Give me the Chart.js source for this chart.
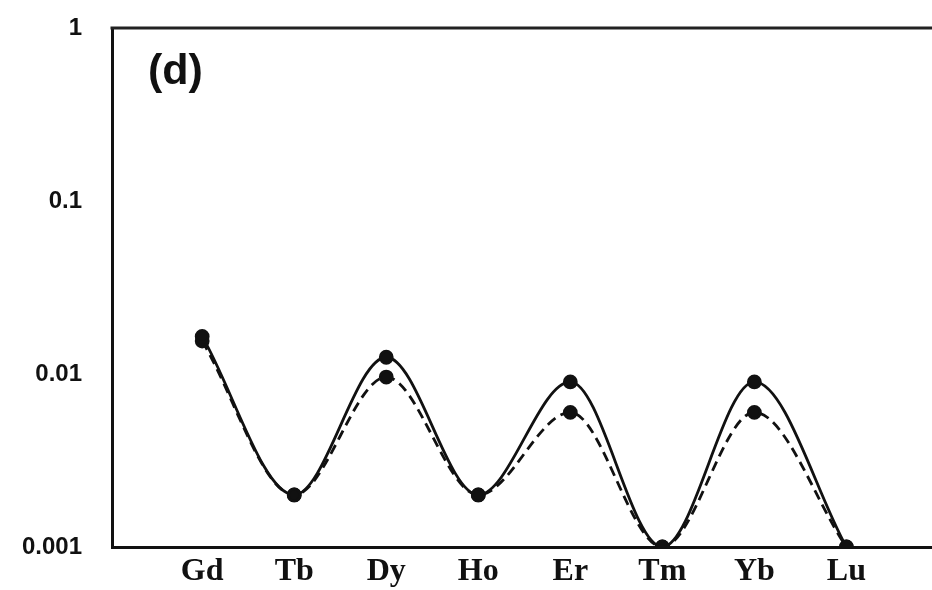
<!DOCTYPE html>
<html>
<head>
<meta charset="utf-8">
<script src="https://cdn.jsdelivr.net/npm/chart.js@4.4.1/dist/chart.umd.min.js"></script>
<style>
  html, body { margin: 0; padding: 0; background: #fff; }
  #wrap { width: 932px; height: 590px; }
</style>
</head>
<body>
<div id="wrap"><canvas id="ree"></canvas></div>
<script>
// 元素ラベルと値
const elements = ['Gd', 'Tb', 'Dy', 'Ho', 'Er', 'Tm', 'Yb', 'Lu'];
const solidValues = [0.0165, 0.002, 0.0125, 0.002, 0.009, 0.001, 0.009, 0.001];
const dashedValues = [0.0155, 0.002, 0.0096, 0.002, 0.006, 0.001, 0.006, 0.001];
const yTicks = [0.001, 0.01, 0.1, 1];
const panelLabel = '(d)';

function toPoints(values) {
    return values.map((v, i) => ({ x: i, y: v }));
}

// 上側の枠線とパネルラベル
const framePlugin = {
    id: 'frame',
    afterDraw(chart) {
        const ctx = chart.ctx;
        const a = chart.chartArea;
        ctx.save();
        ctx.strokeStyle = '#222';
        ctx.lineWidth = 3;
        ctx.beginPath();
        ctx.moveTo(a.left - 1.5, a.top);
        ctx.lineTo(a.right, a.top);
        ctx.stroke();
        ctx.fillStyle = '#111';
        ctx.font = 'bold 43px "Liberation Sans", Arial, sans-serif';
        ctx.textBaseline = 'middle';
        ctx.fillText(panelLabel, a.left + 36, 72);
        ctx.restore();
    }
};

const ctx = document.getElementById('ree').getContext('2d');
new Chart(ctx, {
    type: 'line',
    data: {
        datasets: [
            {
                label: 'solid',
                data: toPoints(solidValues),
                borderColor: '#111',
                backgroundColor: '#111',
                borderWidth: 2.8,
                pointRadius: 6,
                pointHoverRadius: 6,
                cubicInterpolationMode: 'monotone',
                order: 1
            },
            {
                label: 'dashed',
                data: toPoints(dashedValues),
                borderColor: '#111',
                backgroundColor: '#111',
                borderWidth: 2.8,
                borderDash: [10, 6],
                pointRadius: 6,
                pointHoverRadius: 6,
                cubicInterpolationMode: 'monotone',
                order: 2
            }
        ]
    },
    options: {
        responsive: true,
        maintainAspectRatio: false,
        animation: false,
        layout: { autoPadding: false, padding: { top: 28, right: 0, left: 0, bottom: 0 } },
        plugins: {
            legend: { display: false },
            tooltip: { enabled: false }
        },
        scales: {
            x: {
                type: 'linear',
                min: -0.98,
                max: 7.93,
                grid: { display: false, drawTicks: false },
                border: { display: true, color: '#111', width: 3 },
                afterBuildTicks: (scale) => {
                    scale.ticks = elements.map((_, i) => ({ value: i }));
                },
                afterFit: (scale) => {
                    scale.height = 43;
                    scale.paddingLeft = 0;
                    scale.paddingRight = 0;
                },
                ticks: {
                    autoSkip: false,
                    maxRotation: 0,
                    padding: 6,
                    color: '#111',
                    font: { family: '"Liberation Serif", "Times New Roman", serif', size: 32, weight: 'bold' },
                    callback: (v) => elements[v] ?? ''
                }
            },
            y: {
                type: 'logarithmic',
                min: 0.001,
                max: 1,
                grid: { display: false, drawTicks: false },
                border: { display: true, color: '#111', width: 3 },
                afterBuildTicks: (scale) => {
                    scale.ticks = yTicks.map(v => ({ value: v }));
                },
                afterFit: (scale) => {
                    scale.width = 112;
                    scale.paddingTop = 0;
                    scale.paddingBottom = 0;
                },
                ticks: {
                    padding: 30,
                    color: '#111',
                    font: { family: '"Liberation Sans", Arial, sans-serif', size: 24, weight: 'bold' },
                    callback: (v) => String(v)
                }
            }
        }
    },
    plugins: [framePlugin]
});
</script>
</body>
</html>
